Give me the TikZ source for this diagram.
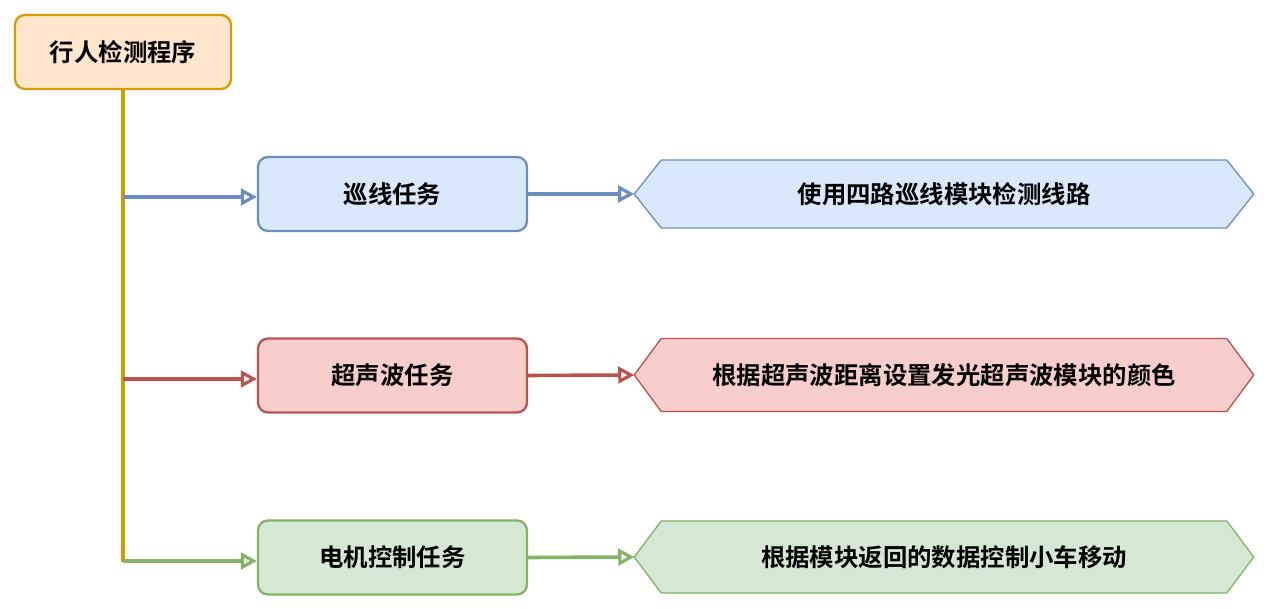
\documentclass[tikz,border=0pt]{standalone}
\usepackage{fontspec}
\newfontfamily\cjk{Noto Sans CJK SC}[BoldFont={Noto Sans CJK SC Bold}]
\usetikzlibrary{arrows.meta}
\definecolor{ofill}{HTML}{FFE6CC}\definecolor{odraw}{HTML}{D79B00}
\definecolor{bfill}{HTML}{DAE8FC}\definecolor{bdraw}{HTML}{6C8EBF}
\definecolor{rfill}{HTML}{F8CECC}\definecolor{rdraw}{HTML}{B85450}
\definecolor{gfill}{HTML}{D5E8D4}\definecolor{gdraw}{HTML}{82B366}
\begin{document}
\begin{tikzpicture}[x=0.75pt,y=-0.75pt,
  txt/.style={font=\cjk\bfseries\fontsize{18.3pt}{21pt}\selectfont,text=black},
  taskbox/.style={txt,rounded corners=7.5pt,line width=1.7pt,minimum width=201.75pt,minimum height=55.5pt,inner sep=0pt},
  hexnode/.style={txt,minimum width=464.25pt,inner sep=0pt},
  conn/.style={line width=2.7pt,-{Triangle[open,length=12pt,width=12.5pt,line width=2.4pt,fill=white]}},
]
\useasboundingbox (0,0) rectangle (1268,609);
% root
\node[taskbox,draw=odraw,fill=ofill,minimum width=162pt] (root) at (123,52) {行人检测程序};
% task boxes
\node[taskbox,draw=bdraw,fill=bfill] (b1) at (392.5,194) {巡线任务};
\node[taskbox,draw=rdraw,fill=rfill] (b2) at (392.5,375.5) {超声波任务};
\node[taskbox,draw=gdraw,fill=gfill] (b3) at (392.5,557.5) {电机控制任务};
% hexagons
\newcommand\hexdraw[4]{% name, color fill, draw, half-height
  \path[fill=#2,draw=#3,line width=1pt]
    (#1.west) -- ([xshift=20.25pt,yshift=#4]#1.west) -- ([xshift=-20.25pt,yshift=#4]#1.east)
    -- (#1.east) -- ([xshift=-20.25pt,yshift=-#4]#1.east) -- ([xshift=20.25pt,yshift=-#4]#1.west) -- cycle;}
\node[hexnode,minimum height=51pt] (h1) at (944,194) {};
\node[hexnode,minimum height=54.75pt] (h2) at (944,375) {};
\node[hexnode,minimum height=54pt] (h3) at (944,557) {};
\hexdraw{h1}{bfill}{bdraw}{25.5pt}
\hexdraw{h2}{rfill}{rdraw}{27.375pt}
\hexdraw{h3}{gfill}{gdraw}{27pt}
\node[txt] at (h1) {使用四路巡线模块检测线路};
\node[txt] at (h2) {根据超声波距离设置发光超声波模块的颜色};
\node[txt] at (h3) {根据模块返回的数据控制小车移动};
% trunk
\coordinate (t1) at (122.7,197);
\coordinate (t2) at (122.7,379);
\coordinate (t3) at (122.7,561);
\draw[odraw,line width=3pt] (root.south -| t1) -- ([yshift=-1pt]t3);
\draw[conn,bdraw] (t1) -- (b1.west |- t1);
\draw[conn,rdraw] (t2) -- (b2.west |- t2);
\draw[conn,gdraw] (t3) -- (b3.west |- t3);
\draw[conn,bdraw] (b1.east) -- (h1.west);
\draw[conn,rdraw] (b2.east) -- (h2.west);
\draw[conn,gdraw] (b3.east) -- (h3.west);
\end{tikzpicture}
\end{document}
